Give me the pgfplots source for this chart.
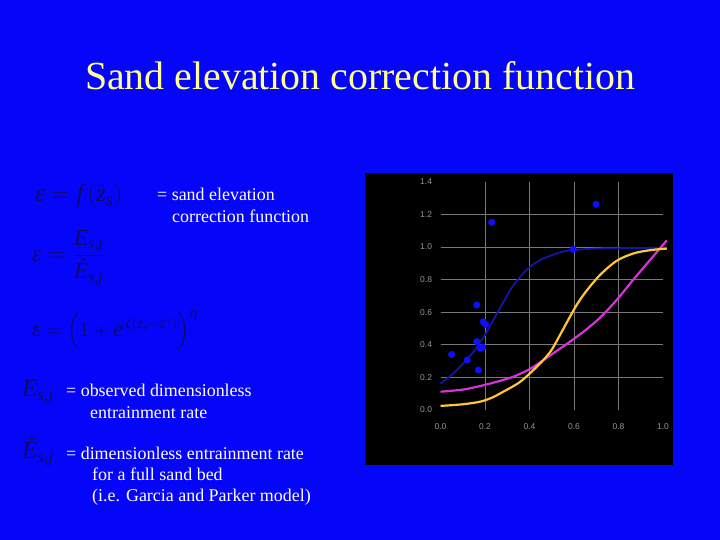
\documentclass[border=0pt]{standalone}
\usepackage{amsmath}
\usepackage{fontspec}
\setmainfont{Liberation Serif}
\newfontfamily\tickfont{Liberation Sans}
\usepackage{pgfplots}
\pgfplotsset{compat=1.18}
\newcommand{\ti}[1]{\textit{#1}}
\definecolor{bg}{RGB}{5,5,250}
\definecolor{titlecol}{RGB}{255,255,150}
\definecolor{eqcol}{RGB}{12,12,100}
\definecolor{bluecurve}{RGB}{20,20,170}
\definecolor{dotblue}{RGB}{15,15,255}
\definecolor{gold}{RGB}{255,200,50}
\definecolor{mag}{RGB}{215,50,215}
\definecolor{gridcol}{RGB}{120,120,120}
\definecolor{tickcol}{RGB}{150,150,150}
\begin{document}
\begin{tikzpicture}[x=1bp,y=1bp]
\fill[bg] (0,0) rectangle (720,540);
\path[use as bounding box] (0,0) rectangle (720,540);
% title
\node[anchor=base, text=titlecol, font=\fontsize{40}{44}\selectfont, inner sep=0] at (360,450) {Sand elevation correction function};
% equations (dark)
\node[anchor=base west, text=eqcol, font=\fontsize{25}{28}\selectfont, inner sep=0] at (35,338) {$\ti{ε} = \ti{f}\,(\hat{\ti{z}}_{\ti{s}})$};
\node[anchor=west, text=eqcol, font=\fontsize{23}{26}\selectfont, inner sep=0] at (32,282) {$\ti{ε}=\dfrac{\ti{E}_{\ti{s,j}}}{\ti{Ê}_{\ti{s,j}}}$};
\node[anchor=west, text=eqcol, font=\fontsize{22.5}{26}\selectfont, inner sep=0] at (32,210) {$\ti{ε}=\Big(1+\ti{e}^{\,\ti{ζ}(\hat{\ti{z}}_{\ti{s}} - \ti{z}^{*})}\Big)^{\ti{η}}$};
\node[anchor=base west, text=eqcol, font=\fontsize{25}{28}\selectfont, inner sep=0] at (22,143) {$\ti{E}_{\ti{s,j}}$};
\node[anchor=base west, text=eqcol, font=\fontsize{25}{28}\selectfont, inner sep=0] at (22,81) {$\ti{Ê}_{\ti{s,j}}$};
% body text
\begin{scope}[every node/.style={anchor=base west, text=white, font=\fontsize{18}{21}\selectfont, inner sep=0}]
\node at (157,339) {= sand elevation};
\node at (172,317.5) {correction function};
\node at (66,143) {= observed dimensionless};
\node at (90,121) {entrainment rate};
\node at (66,80) {= dimensionless entrainment rate};
\node at (92,59) {for a full sand bed};
\node at (92,38) {(i.e. Garcia and Parker model)};
\end{scope}
% chart background
\fill[black] (365,75) rectangle (673,367);
\begin{axis}[
  at={(440.5bp,130bp)}, anchor=south west,
  scale only axis, width=222.5bp, height=228.3bp,
  xmin=0, xmax=1, ymin=0, ymax=1.4,
  clip=false,
  axis line style={draw=none},
  major tick length=0pt,
  xtick={0.2,0.4,0.6,0.8},
  ytick={0.2,0.4,0.6,0.8,1.0,1.2},
  extra x ticks={0,1}, extra y ticks={0,1.4},
  extra tick style={grid=none},
  grid=major,
  major grid style={draw=gridcol, line width=0.6bp},
  ticklabel style={font=\tickfont\fontsize{8.5}{9}\selectfont, text=tickcol},
  xticklabel style={yshift=-10bp},
  yticklabel style={xshift=-5bp},
  /pgf/number format/fixed,
  /pgf/number format/fixed zerofill,
  /pgf/number format/precision=1,
  /pgf/number format/assume math mode=true,
]
\addplot[bluecurve, line width=1.8bp, smooth] coordinates {
(0,0.163) (0.05,0.215) (0.103,0.286) (0.15,0.36) (0.178,0.415) (0.2,0.46)
(0.245,0.57) (0.28,0.655) (0.32,0.75) (0.36,0.82) (0.395,0.869) (0.43,0.905) (0.47,0.934)
(0.545,0.97) (0.59,0.98) (0.7,0.99) (0.85,0.993) (1.017,0.995)};
\addplot[mag, line width=2.2bp, smooth] coordinates {
(0,0.112) (0.1,0.125) (0.178,0.147) (0.25,0.172) (0.327,0.204) (0.4,0.25)
(0.462,0.306) (0.52,0.36) (0.582,0.419) (0.65,0.488) (0.717,0.566) (0.792,0.675)
(0.867,0.8) (0.942,0.92) (1.017,1.04)};
\addplot[gold, line width=2.2bp, smooth] coordinates {
(0,0.025) (0.1,0.035) (0.178,0.051) (0.23,0.075) (0.282,0.112) (0.35,0.165)
(0.402,0.225) (0.462,0.306) (0.5,0.37) (0.537,0.46) (0.575,0.555) (0.612,0.644)
(0.65,0.72) (0.717,0.828) (0.792,0.915) (0.867,0.96) (0.942,0.98) (1.017,0.99)};
\addplot[only marks, mark=*, mark size=3.3bp, mark options={draw=dotblue, fill=dotblue}] coordinates {
(0.05,0.34) (0.12,0.306) (0.163,0.644) (0.192,0.541) (0.203,0.525) (0.163,0.419)
(0.178,0.378) (0.19,0.385) (0.17,0.245) (0.23,1.151) (0.597,0.985) (0.699,1.261)};
\end{axis}
\end{tikzpicture}
\end{document}
